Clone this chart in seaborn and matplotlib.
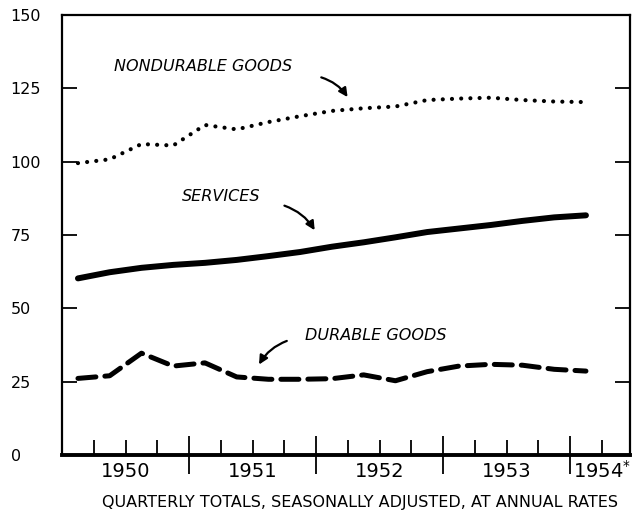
import matplotlib
matplotlib.use('Agg')
import matplotlib.pyplot as plt
import seaborn as sns

# quarterly points, plotted at the middle of each quarter
quarter_mid = [1950.125, 1950.375, 1950.625, 1950.875,
               1951.125, 1951.375, 1951.625, 1951.875,
               1952.125, 1952.375, 1952.625, 1952.875,
               1953.125, 1953.375, 1953.625, 1953.875,
               1954.125]

nondurable = [99.5, 100.8, 106.0, 105.5, 112.5, 111.0, 113.5, 115.5,
              117.3, 118.2, 118.8, 121.0, 121.5, 121.8, 121.0, 120.5, 120.3]
services = [60.2, 62.3, 63.8, 64.8, 65.5, 66.5, 67.8, 69.2,
            71.0, 72.5, 74.2, 76.0, 77.2, 78.4, 79.8, 81.0, 81.7]
durable = [26.1, 27.0, 34.7, 30.3, 31.4, 26.6, 25.8, 25.8,
           26.0, 27.3, 25.3, 28.4, 30.3, 30.9, 30.6, 29.2, 28.6]

y_ticks = [0, 25, 50, 75, 100, 125, 150]
year_bounds = [1951, 1952, 1953, 1954]
quarter_ticks = [1950.25, 1950.5, 1950.75, 1951.25, 1951.5, 1951.75,
                 1952.25, 1952.5, 1952.75, 1953.25, 1953.5, 1953.75, 1954.25]
year_labels = ['1950', '1951', '1952', '1953']
year_centers = [1950.5, 1951.5, 1952.5, 1953.5]
caption = 'QUARTERLY TOTALS, SEASONALLY ADJUSTED, AT ANNUAL RATES'

#%%
sns.set_style('white')
plt.rcParams['font.family'] = ['DejaVu Sans']
plt.rcParams['text.color'] = 'black'

fig = plt.figure(figsize=(6.4, 5.17), dpi=100)
ax = fig.add_axes([0.097, 0.12, 0.887, 0.851])

sns.lineplot(x=quarter_mid, y=nondurable, ax=ax, color='black', linewidth=3.0,
             linestyle=(0, (0.01, 2.2)), dash_capstyle='round')
sns.lineplot(x=quarter_mid, y=services, ax=ax, color='black', linewidth=4.3,
             solid_capstyle='round')
sns.lineplot(x=quarter_mid, y=durable, ax=ax, color='black', linewidth=3.6,
             linestyle=(0, (3.6, 1.8)), dash_capstyle='round')

ax.set_xlim(1950, 1954.47)
ax.set_ylim(0, 150)

ax.set_yticks(y_ticks)
ax.set_yticklabels([str(v) for v in y_ticks])
ax.tick_params(axis='y', direction='in', length=11, width=1.3, left=True, right=True,
               pad=37, labelsize=11.5, colors='black')
for lab in ax.get_yticklabels():
    lab.set_ha('left')

ax.set_xticks(year_bounds)
ax.set_xticks(quarter_ticks, minor=True)
ax.tick_params(axis='x', which='major', direction='inout', length=28, width=1.3,
               bottom=True, labelbottom=False, colors='black')
ax.tick_params(axis='x', which='minor', direction='in', length=11, width=1.3,
               bottom=True, colors='black')
ax.set_xlabel('')
ax.set_ylabel('')

for sp in ax.spines.values():
    sp.set_visible(True)
    sp.set_color('black')
    sp.set_linewidth(1.6)
ax.spines['bottom'].set_linewidth(2.8)

xt = ax.get_xaxis_transform()
for xc, lab in zip(year_centers, year_labels):
    ax.text(xc, -0.037, lab, transform=xt, ha='center', va='center', fontsize=14)
ax.text(1954.02, -0.037, r'1954$^{*}$', transform=xt, ha='left', va='center', fontsize=14)

fig.text(360 / 640, 1 - 503 / 517, caption, ha='center', va='center', fontsize=11.5)

# series labels with arrows
lab_kw = dict(style='italic', fontsize=11.5, va='center')
arrow_kw = dict(arrowstyle='-|>', color='black', lw=1.6, mutation_scale=13)
ax.text(1950.41, 132.4, 'NONDURABLE GOODS', **lab_kw)
ax.annotate('', xy=(1952.26, 121.2), xytext=(1952.02, 129),
            arrowprops=dict(connectionstyle='arc3,rad=-0.2', **arrow_kw))
ax.text(1950.94, 88, 'SERVICES', **lab_kw)
ax.annotate('', xy=(1952.0, 75.8), xytext=(1951.73, 85.3),
            arrowprops=dict(connectionstyle='arc3,rad=-0.2', **arrow_kw))
ax.text(1951.91, 40.6, 'DURABLE GOODS', **lab_kw)
ax.annotate('', xy=(1951.54, 30.0), xytext=(1951.79, 39.2),
            arrowprops=dict(connectionstyle='arc3,rad=0.2', **arrow_kw))

plt.savefig('out.png', dpi=100)
